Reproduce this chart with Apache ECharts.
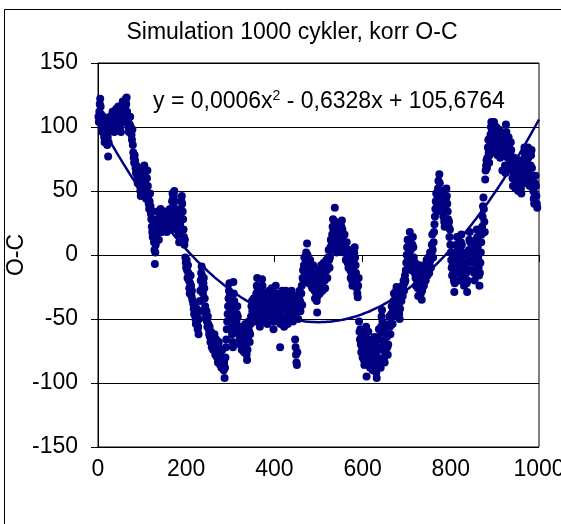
<!DOCTYPE html>
<html>
<head>
<meta charset="utf-8">
<script src="https://cdn.jsdelivr.net/npm/echarts@6/dist/echarts.min.js"></script>
<style>
  html, body { margin: 0; padding: 0; background: #fff; }
  #chart { width: 561px; height: 524px; }
</style>
</head>
<body>
<div id="chart"></div>
<script>
// O-C residuals per simulated cycle, split into blocks of 100 cycles: [cycle, O-C]
const oc0to100 = [[1,108],[2,104],[3,112],[4,118],[5,122],[6,116],[7,110],[8,104],[9,100],[10,96],[11,102],[12,108],[13,98],[14,92],[15,88],[16,94],[17,100],[18,106],[19,96],[20,90],[21,86],[22,92],[23,77],[24,88],[25,96],[26,102],[27,108],[28,104],[29,98],[30,102],[32,108],[33,112],[34,104],[36,100],[37,96],[38,106],[40,110],[41,114],[42,108],[44,104],[45,110],[46,116],[48,112],[49,106],[50,100],[52,96],[53,104],[54,110],[55,116],[56,120],[57,114],[58,108],[60,104],[61,110],[62,116],[63,122],[64,118],[65,123],[66,112],[68,106],[69,100],[70,96],[72,102],[73,108],[74,100],[76,94],[77,90],[78,98],[79,86],[80,80],[81,76],[82,72],[83,78],[84,74],[85,68],[86,64],[87,70],[88,66],[89,60],[90,56],[91,62],[92,68],[93,64],[94,58],[95,54],[96,50],[97,46],[98,52],[99,56],[100,60]];
const oc100to200 = [[101,64],[102,58],[103,52],[104,66],[105,70],[106,62],[107,56],[108,48],[109,44],[110,50],[111,60],[112,66],[113,54],[114,46],[115,40],[116,36],[117,42],[118,48],[119,38],[120,32],[121,28],[122,22],[123,18],[124,14],[125,20],[126,26],[127,10],[128,4],[129,-7],[130,2],[131,8],[132,16],[133,22],[134,28],[135,34],[136,26],[137,18],[138,12],[139,20],[140,24],[141,30],[142,36],[143,28],[144,22],[145,18],[146,26],[147,32],[148,20],[150,24],[151,30],[152,34],[153,28],[154,22],[156,18],[157,26],[158,32],[160,28],[161,22],[162,30],[163,36],[164,26],[165,20],[166,28],[167,34],[168,42],[169,48],[170,44],[171,38],[172,46],[173,50],[174,42],[175,36],[176,30],[177,24],[178,20],[179,26],[180,32],[181,28],[182,22],[183,16],[184,10],[185,18],[186,24],[187,30],[188,36],[189,42],[190,46],[191,40],[192,34],[193,28],[194,20],[195,14],[196,8],[197,12],[198,-2],[199,-6],[200,-10]];
const oc200to300 = [[201,-4],[202,-12],[203,-18],[204,-8],[205,-14],[206,-20],[207,-26],[208,-30],[209,-22],[210,-16],[211,-24],[212,-32],[213,-28],[214,-35],[216,-38],[217,-42],[218,-46],[219,-40],[220,-44],[221,-50],[222,-54],[223,-48],[224,-42],[225,-52],[226,-58],[227,-56],[228,-62],[229,-50],[230,-44],[231,-36],[232,-28],[233,-20],[234,-14],[235,-9],[236,-16],[237,-24],[238,-30],[239,-22],[240,-18],[241,-26],[242,-34],[243,-40],[244,-46],[245,-50],[246,-44],[247,-52],[248,-56],[249,-48],[250,-54],[251,-58],[252,-62],[253,-56],[254,-64],[255,-68],[256,-60],[257,-66],[258,-72],[259,-64],[260,-70],[261,-74],[262,-68],[264,-62],[265,-72],[266,-78],[267,-70],[268,-66],[269,-74],[270,-80],[271,-76],[272,-84],[273,-72],[274,-68],[275,-76],[276,-82],[277,-86],[278,-78],[279,-84],[280,-88],[281,-80],[282,-74],[283,-82],[284,-86],[285,-90],[286,-84],[287,-96],[288,-88],[289,-80],[290,-72],[291,-66],[292,-58],[293,-52],[294,-46],[295,-40],[296,-34],[297,-28],[298,-22],[299,-30],[300,-38]];
const oc300to400 = [[301,-44],[302,-50],[303,-56],[304,-62],[305,-68],[306,-72],[307,-21],[308,-30],[309,-36],[310,-42],[311,-48],[312,-54],[313,-60],[314,-52],[315,-46],[316,-40],[317,-48],[318,-56],[319,-62],[320,-58],[321,-66],[322,-70],[323,-64],[324,-60],[325,-68],[326,-74],[327,-66],[328,-56],[329,-62],[330,-70],[331,-76],[332,-68],[333,-60],[334,-54],[335,-62],[336,-72],[337,-78],[338,-82],[339,-74],[340,-66],[341,-58],[342,-52],[343,-60],[344,-68],[345,-62],[346,-54],[347,-48],[348,-40],[349,-36],[350,-44],[351,-50],[352,-42],[353,-34],[354,-40],[355,-46],[356,-52],[357,-46],[358,-38],[359,-30],[360,-24],[361,-18],[362,-26],[363,-32],[364,-38],[365,-44],[366,-50],[367,-56],[368,-48],[369,-40],[370,-34],[371,-28],[372,-19],[373,-24],[374,-32],[375,-40],[376,-46],[377,-52],[378,-44],[379,-38],[380,-30],[381,-36],[382,-42],[383,-48],[384,-54],[385,-46],[386,-40],[387,-34],[388,-28],[389,-36],[390,-42],[391,-48],[392,-40],[393,-32],[394,-26],[395,-34],[396,-44],[397,-52],[398,-58],[399,-50],[400,-44]];
const oc400to500 = [[401,-38],[402,-30],[403,-24],[404,-32],[405,-40],[406,-46],[407,-52],[408,-44],[409,-36],[410,-30],[411,-38],[412,-46],[413,-72],[414,-54],[415,-48],[416,-40],[417,-32],[418,-28],[419,-36],[420,-42],[421,-50],[422,-56],[423,-48],[424,-40],[425,-34],[426,-28],[427,-34],[428,-42],[429,-48],[430,-54],[431,-46],[432,-38],[433,-30],[434,-36],[435,-44],[436,-50],[437,-42],[438,-34],[439,-28],[440,-36],[441,-44],[442,-52],[443,-46],[444,-40],[445,-32],[446,-38],[447,-66],[448,-72],[449,-78],[450,-84],[451,-86],[452,-76],[453,-44],[454,-50],[455,-42],[456,-34],[457,-28],[458,-36],[459,-44],[460,-38],[461,-30],[462,-24],[463,-39],[464,-18],[465,-12],[466,-20],[467,-8],[468,-2],[469,-10],[470,-16],[471,-6],[472,2],[473,-4],[474,9],[475,0],[476,-8],[477,-14],[478,-22],[479,-16],[480,-10],[481,-4],[482,-12],[483,-18],[484,-24],[485,-20],[486,-26],[487,-14],[488,-8],[489,-16],[490,-22],[491,-28],[492,-34],[493,-26],[494,-20],[495,-30],[496,-36],[497,-45],[498,-32],[499,-24],[500,-18]];
const oc500to600 = [[501,-12],[502,-22],[503,-30],[504,-24],[505,-16],[506,-8],[507,-14],[508,-22],[509,-28],[510,-20],[511,-12],[512,-6],[513,-14],[514,-20],[515,-26],[516,-18],[517,-10],[518,-4],[519,-12],[520,-18],[521,-8],[522,-2],[523,4],[524,-4],[525,-10],[526,-2],[527,6],[528,12],[529,4],[530,10],[531,16],[532,22],[533,28],[534,20],[535,14],[536,24],[537,37],[538,26],[539,18],[540,10],[541,2],[542,8],[543,14],[544,20],[545,12],[546,4],[547,10],[548,18],[549,12],[550,6],[551,16],[552,22],[553,27],[554,20],[555,14],[556,8],[557,2],[558,10],[559,16],[560,8],[561,2],[562,-4],[563,4],[564,10],[565,2],[566,-6],[567,-2],[568,-10],[569,-4],[570,4],[571,-6],[572,-12],[573,-18],[574,-8],[575,-14],[576,-20],[577,-24],[578,-16],[579,-10],[580,-4],[581,2],[582,6],[583,-2],[584,-8],[585,-14],[586,-20],[587,-26],[588,-30],[589,-33],[590,-24],[591,-18],[592,-52],[593,-60],[594,-66],[595,-58],[596,-70],[597,-76],[598,-64],[599,-72],[600,-80]];
const oc600to700 = [[601,-68],[602,-74],[603,-82],[604,-86],[605,-78],[606,-70],[607,-62],[608,-56],[609,-95],[610,-84],[611,-76],[612,-68],[613,-60],[614,-66],[615,-72],[616,-80],[617,-88],[618,-82],[619,-74],[620,-68],[621,-76],[622,-84],[623,-90],[624,-86],[625,-78],[626,-72],[627,-64],[628,-70],[629,-78],[630,-86],[631,-92],[632,-96],[633,-88],[634,-80],[635,-72],[636,-64],[637,-58],[638,-66],[639,-74],[640,-82],[641,-88],[642,-56],[643,-48],[644,-43],[645,-52],[646,-60],[647,-68],[648,-74],[649,-80],[650,-84],[651,-76],[652,-70],[653,-62],[654,-56],[655,-64],[656,-72],[657,-78],[658,-70],[659,-62],[660,-54],[661,-48],[662,-56],[663,-62],[664,-54],[665,-46],[666,-40],[667,-48],[668,-54],[669,-44],[670,-36],[671,-30],[672,-40],[673,-48],[674,-38],[675,-32],[676,-28],[677,-25],[678,-34],[679,-42],[680,-36],[681,-30],[682,-38],[683,-46],[684,-50],[685,-42],[686,-34],[687,-28],[688,-36],[689,-30],[690,-24],[691,-32],[692,-26],[693,-20],[694,-28],[695,-22],[696,-16],[697,-20],[698,-12],[699,-6],[700,0]];
const oc700to800 = [[701,6],[702,12],[703,-4],[704,-10],[705,2],[706,10],[707,18],[708,12],[709,4],[710,-6],[711,-12],[712,-2],[713,8],[714,14],[715,6],[716,-2],[717,-8],[718,-14],[719,-6],[720,-18],[721,-24],[722,-16],[723,-10],[724,-20],[725,-26],[726,-32],[727,-22],[728,-14],[729,-8],[730,-16],[731,-24],[732,-30],[733,-26],[734,-35],[735,-28],[736,-20],[737,-12],[738,-18],[739,-24],[740,-16],[741,-8],[742,-14],[743,-20],[744,-12],[745,-4],[746,-10],[747,-16],[748,-6],[749,-2],[750,-8],[751,-14],[752,-6],[753,2],[754,-4],[755,-10],[756,2],[757,8],[758,16],[759,4],[760,-2],[761,10],[762,18],[763,24],[764,30],[765,36],[766,42],[767,48],[768,40],[769,34],[770,44],[771,52],[772,58],[773,50],[774,63],[775,56],[776,48],[777,42],[778,36],[779,44],[780,50],[781,42],[782,38],[783,30],[784,34],[785,26],[786,22],[787,28],[788,36],[789,44],[790,52],[791,46],[792,40],[793,34],[794,28],[795,22],[796,26],[797,14],[798,20],[799,8],[800,2]];
const oc800to900 = [[801,-4],[802,-10],[803,-16],[804,-8],[805,-2],[806,-14],[807,-20],[808,-29],[809,-22],[810,-14],[811,-6],[812,2],[813,8],[814,14],[815,6],[816,0],[817,-8],[818,-14],[819,-20],[820,-10],[821,-4],[822,4],[823,10],[824,16],[825,8],[826,2],[827,-6],[828,-12],[829,-18],[830,-24],[831,-16],[832,-8],[833,0],[834,-6],[835,-14],[836,-22],[837,-29],[838,-20],[839,-12],[840,-4],[841,4],[842,12],[843,18],[844,10],[845,2],[846,-6],[847,-12],[848,-4],[849,4],[850,10],[851,2],[852,-6],[853,-14],[854,-20],[855,-12],[856,-4],[857,4],[858,12],[859,20],[860,14],[861,6],[862,-2],[863,-10],[864,-16],[865,-24],[866,-14],[867,-6],[868,2],[869,10],[870,16],[871,22],[872,30],[873,38],[874,45],[875,36],[876,26],[877,18],[878,59],[879,66],[880,70],[881,74],[882,68],[883,76],[884,84],[885,90],[886,80],[887,72],[888,78],[889,86],[890,94],[891,100],[892,104],[893,96],[894,88],[895,82],[896,90],[897,98],[898,104],[899,96],[900,88]];
const oc900to1000 = [[901,80],[902,92],[903,100],[904,94],[905,86],[906,78],[907,84],[908,92],[909,98],[910,90],[911,82],[912,76],[913,84],[914,92],[915,96],[916,88],[917,66],[918,80],[919,88],[920,94],[921,86],[922,78],[923,70],[924,64],[925,102],[926,96],[927,88],[928,68],[929,76],[930,84],[931,92],[932,86],[933,78],[934,72],[935,80],[936,88],[937,82],[938,74],[939,66],[940,60],[941,54],[942,62],[943,70],[944,76],[945,68],[946,60],[947,52],[948,58],[949,66],[950,72],[951,64],[952,56],[953,50],[954,58],[955,66],[956,74],[957,68],[958,60],[959,52],[960,48],[961,56],[962,64],[963,72],[964,66],[965,58],[966,80],[967,84],[968,76],[969,70],[970,62],[971,56],[972,64],[973,72],[974,80],[975,84],[976,76],[977,68],[978,60],[979,54],[980,62],[981,70],[982,78],[983,82],[984,68],[985,62],[986,56],[987,50],[988,44],[989,40],[990,48],[991,56],[992,62],[993,54],[994,46],[995,40],[996,37]];

// Second-order polynomial trendline coefficients: y = a*x^2 + b*x + c
const trendA = 0.000633;
const trendB = -0.6328;
const trendC = 105.6764;

const chartTitle = 'Simulation 1000 cykler, korr O-C';
const yAxisName = 'O-C';

const points = [].concat(oc0to100, oc100to200, oc200to300, oc300to400, oc400to500,
  oc500to600, oc600to700, oc700to800, oc800to900, oc900to1000);

// Sample the fitted polynomial across the x range
const trendPoints = [];
for (let x = 0; x <= 1000; x += 10) {
  trendPoints.push([x, trendA * x * x + trendB * x + trendC]);
}

const fmt = v => v.toFixed(4).replace('.', ',');
const equationText = 'y = ' + fmt(trendA) + 'x{sup|2} - ' + fmt(-trendB) + 'x + ' + fmt(trendC);

const FONT = '"Liberation Sans", Arial, sans-serif';
const NAVY = '#000080';

const chart = echarts.init(document.getElementById('chart'), null, { renderer: 'canvas' });
chart.setOption({
  backgroundColor: '#fff',
  animation: false,
  title: {
    text: chartTitle,
    left: 287,
    top: 16,
    textAlign: 'center',
    textStyle: { fontFamily: FONT, fontSize: 23, fontWeight: 'normal', color: '#000' }
  },
  grid: {
    left: 98, right: 22, top: 63, bottom: 77,
    containLabel: false,
    outerBoundsMode: 'none',
    show: true, borderColor: '#000', borderWidth: 1, backgroundColor: '#fff'
  },
  xAxis: {
    type: 'value', min: 0, max: 1000, interval: 200,
    axisLine: { lineStyle: { color: '#000', width: 1 } },
    axisTick: { show: true, inside: false, length: 7, lineStyle: { color: '#000' } },
    splitLine: { show: false },
    axisLabel: {
      fontFamily: FONT, fontSize: 23, color: '#000', margin: 11,
      hideOverlap: false,
      formatter: v => String(v)
    }
  },
  yAxis: {
    type: 'value', min: -150, max: 150, interval: 50,
    name: yAxisName, nameLocation: 'middle', nameRotate: 90, nameGap: 70,
    nameMoveOverlap: false,
    nameTextStyle: { fontFamily: FONT, fontSize: 23, color: '#000' },
    axisLine: { lineStyle: { color: '#000', width: 1 } },
    axisTick: { show: true, inside: false, length: 7, lineStyle: { color: '#000' } },
    splitLine: { show: true, lineStyle: { color: '#000', width: 1 } },
    axisLabel: { fontFamily: FONT, fontSize: 23, color: '#000', margin: 20, formatter: v => String(v) }
  },
  series: [
    {
      type: 'scatter',
      data: points,
      symbol: 'circle',
      symbolSize: 8,
      itemStyle: { color: NAVY, opacity: 1 },
      z: 2
    },
    {
      type: 'line',
      data: trendPoints,
      showSymbol: false,
      symbol: 'none',
      smooth: true,
      lineStyle: { color: NAVY, width: 2.5 },
      z: 3
    }
  ],
  graphic: [
    {
      type: 'rect',
      silent: true,
      shape: { x: 4.5, y: 9.5, width: 800, height: 800 },
      style: { fill: 'none', stroke: '#000', lineWidth: 1 }
    },
    {
      type: 'text',
      x: 153,
      y: 102,
      silent: true,
      style: {
        text: equationText,
        fontFamily: FONT,
        fontSize: 23,
        fill: '#000',
        verticalAlign: 'middle',
        rich: {
          sup: { fontFamily: FONT, fontSize: 14, fill: '#000', padding: [0, 0, 12, 0] }
        }
      }
    }
  ]
});
</script>
</body>
</html>
